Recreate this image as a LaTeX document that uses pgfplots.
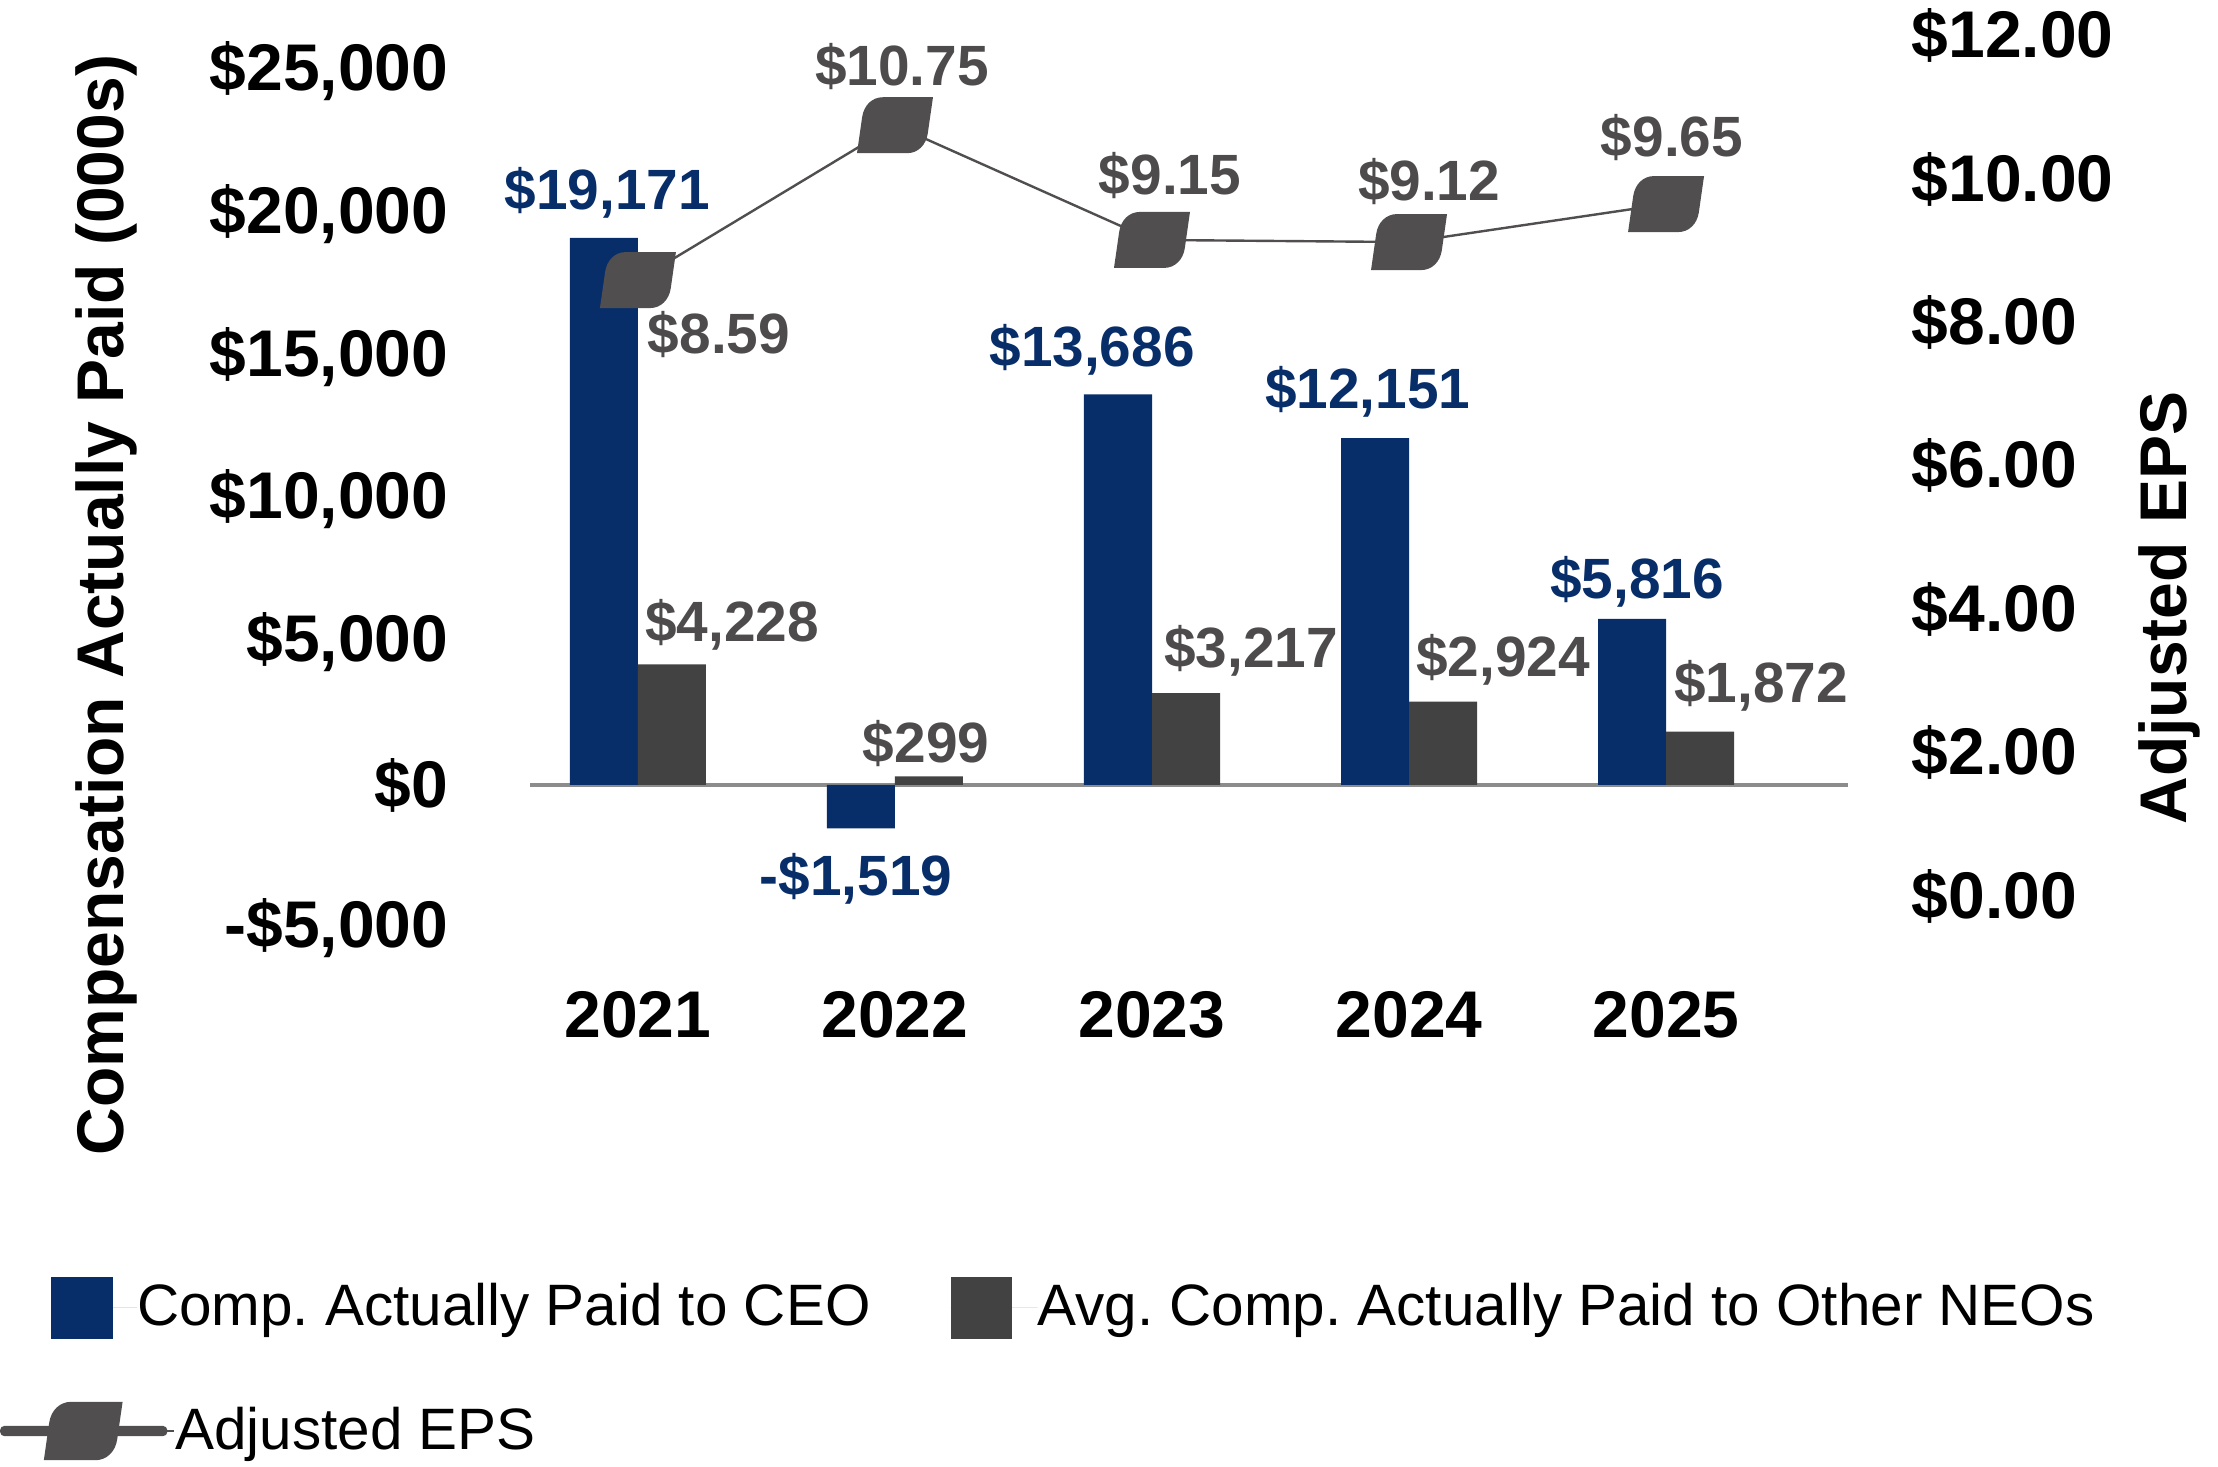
\documentclass[border=0pt]{standalone}
\usepackage{fontspec}
\setmainfont{Liberation Sans}
\usepackage{pgfplots}
\pgfplotsset{compat=1.18}
\frenchspacing

\definecolor{navy}{HTML}{082E6A}
\definecolor{bargray}{HTML}{434242}
\definecolor{labgray}{HTML}{4D4B4C}
\definecolor{mkgray}{HTML}{504E4F}
\definecolor{axgray}{HTML}{8C8C8C}

\newcommand{\tickfont}{\fontsize{16.5}{18}\selectfont\bfseries}
\newcommand{\labfont}{\fontsize{14.2}{16}\selectfont\bfseries}
\newcommand{\legfont}{\fontsize{14.6}{16}\selectfont}

\pgfdeclareplotmark{leaf}{%
  \pgfpathmoveto{\pgfpoint{9.5pt}{7pt}}%
  \pgfpathlineto{\pgfpoint{8.21pt}{-2pt}}%
  \pgfpathcurveto{\pgfpoint{7.78pt}{-5pt}}{\pgfpoint{5.7pt}{-7pt}}{\pgfpoint{3pt}{-7pt}}%
  \pgfpathlineto{\pgfpoint{-9.5pt}{-7pt}}%
  \pgfpathlineto{\pgfpoint{-8.21pt}{2pt}}%
  \pgfpathcurveto{\pgfpoint{-7.78pt}{5pt}}{\pgfpoint{-5.7pt}{7pt}}{\pgfpoint{-3pt}{7pt}}%
  \pgfpathclose
  \pgfusepathqfill
}

\begin{document}
\begin{tikzpicture}
\useasboundingbox (0,0) rectangle (554.5pt,366.75pt);

% ---------- left axis: bars ----------
\begin{axis}[
  at={(132.5pt,133pt)}, anchor=south west,
  scale only axis, width=329.5pt, height=226.25pt,
  xmin=-0.42, xmax=4.708,
  ymin=-5256, ymax=26454,
  scaled y ticks=false,
  axis y line*=left, axis x line*=bottom,
  axis line style={draw=none},
  major tick length=0pt,
  xtick={0,1,2,3,4},
  xticklabels={2021,2022,2023,2024,2025},
  xticklabel style={font=\tickfont, anchor=center, inner sep=0pt, yshift=-20pt},
  ytick={-5000,0,5000,10000,15000,20000,25000},
  yticklabels={{-\$5,000},{\$0},{\$5,000},{\$10,000},{\$15,000},{\$20,000},{\$25,000}},
  yticklabel style={font=\tickfont, anchor=east, inner sep=0pt, xshift=-20.25pt},
  ylabel={Compensation Actually Paid (000s)},
  ylabel style={font=\tickfont, at={(axis description cs:-0.3217,0.3646)}, anchor=center},
  clip=false,
  legend columns=2,
  legend style={draw=none, fill=none, inner sep=0pt, outer sep=0pt,
    font=\legfont, column sep=0pt,
    at={(axis description cs:-0.3634,-0.4116)}, anchor=west,
    nodes={inner sep=0pt}},
]
\draw[axgray, line width=1.1pt] (axis cs:-0.42,0) -- (axis cs:4.708,0);

\addplot[ybar, bar width=0.2646, bar shift=-0.1323, fill=navy, draw=none,
  legend image code/.code={\path (0pt,0pt) -- (21.5pt,0pt);
    \fill[navy] (0pt,-7.75pt) rectangle (15.5pt,7.75pt);}]
  coordinates {(0,19171) (1,-1519) (2,13686) (3,12151) (4,5816)};
\addlegendentry{Comp. Actually Paid to CEO\rule{20pt}{0pt}}

\addplot[ybar, bar width=0.2646, bar shift=0.1323, fill=bargray, draw=none,
  legend image code/.code={\path (0pt,0pt) -- (21.75pt,0pt);
    \fill[bargray] (0pt,-7.75pt) rectangle (15.25pt,7.75pt);}]
  coordinates {(0,4228) (1,299) (2,3217) (3,2924) (4,1872)};
\addlegendentry{Avg. Comp. Actually Paid to Other NEOs}

\begin{scope}[every node/.style={font=\labfont, anchor=base, inner sep=0pt}]
\node[text=navy] at (axis cs:-0.119,20147) {\$19,171};
\node[text=navy] at (axis cs:0.848,-3889) {-\$1,519};
\node[text=navy] at (axis cs:1.767,14646) {\$13,686};
\node[text=navy] at (axis cs:2.840,13174) {\$12,151};
\node[text=navy] at (axis cs:3.887,6517) {\$5,816};
\node[text=labgray] at (axis cs:0.366,5011) {\$4,228};
\node[text=labgray] at (axis cs:1.121,771) {\$299};
\node[text=labgray] at (axis cs:2.385,4100) {\$3,217};
\node[text=labgray] at (axis cs:3.366,3784) {\$2,924};
\node[text=labgray] at (axis cs:4.370,2873) {\$1,872};
\end{scope}
\end{axis}

% ---------- right axis: EPS ----------
\begin{axis}[
  at={(132.5pt,133pt)}, anchor=south west,
  scale only axis, width=329.5pt, height=226.25pt,
  xmin=-0.42, xmax=4.708,
  ymin=-0.544, ymax=12.078,
  axis y line*=right, axis x line=none,
  axis line style={draw=none},
  major tick length=0pt,
  ytick={0,2,4,6,8,10,12},
  yticklabels={{\$0.00},{\$2.00},{\$4.00},{\$6.00},{\$8.00},{\$10.00},{\$12.00}},
  yticklabel style={font=\tickfont, anchor=west, inner sep=0pt, xshift=15.75pt},
  ylabel={Adjusted EPS},
  ylabel style={font=\tickfont, at={(axis description cs:1.2436,0.3613)}, anchor=center},
  clip=false,
  legend style={draw=none, fill=none, inner sep=0pt, outer sep=0pt,
    font=\legfont, column sep=0pt,
    at={(axis description cs:-0.4021,-0.5481)}, anchor=west,
    nodes={inner sep=0pt}},
]
\addplot[color=mkgray, line width=0.6pt, mark=leaf,
  mark options={fill=mkgray, draw=none},
  legend image code/.code={%
    \fill[mkgray, rounded corners=0.9pt] (0pt,-1pt) rectangle (41.25pt,1pt);
    \path (0pt,0pt) -- (43.25pt,0pt);
    \fill[mkgray] (20.5pt,0pt) ++(9.5pt,7pt) -- ++(-1.29pt,-9pt)
      .. controls ++(-0.43pt,-3pt) and ++(2.7pt,0pt) .. ++(-5.21pt,-5pt)
      -- ++(-12.5pt,0pt) -- ++(1.29pt,9pt)
      .. controls ++(0.43pt,3pt) and ++(-2.7pt,0pt) .. ++(5.21pt,5pt) -- cycle;}]
  coordinates {(0,8.59) (1,10.75) (2,9.15) (3,9.12) (4,9.65)};
\addlegendentry{Adjusted EPS}

\begin{scope}[every node/.style={font=\labfont, anchor=base, inner sep=0pt, text=labgray}]
\node at (axis cs:1.027,11.31) {\$10.75};
\node at (axis cs:0.315,7.573) {\$8.59};
\node at (axis cs:2.070,9.777) {\$9.15};
\node at (axis cs:3.078,9.693) {\$9.12};
\node at (axis cs:4.023,10.32) {\$9.65};
\end{scope}
\end{axis}
\end{tikzpicture}
\end{document}
